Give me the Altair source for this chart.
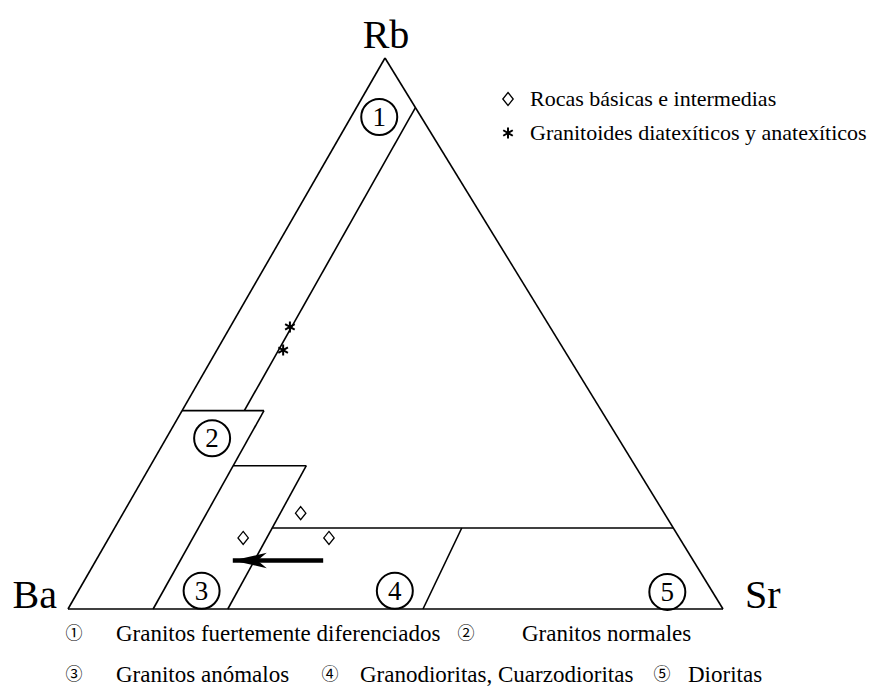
import altair as alt
import pandas as pd

# ---------------- data (ternary fractions; Ba = 1 - Rb - Sr) ----------------
# field boundary segments: start (Rb, Sr) -> end (Rb, Sr)
seg_rb_from = [0.0, 0.0, 1.0, 0.91, 0.36, 0.36, 0.26, 0.26, 0.147, 0.147]
seg_sr_from = [0.0, 1.0, 0.0, 0.09, 0.0, 0.125, 0.1264, 0.238, 0.2406, 0.53]
seg_rb_to = [0.0, 1.0, 0.0, 0.36, 0.36, 0.0, 0.26, 0.0, 0.147, 0.0]
seg_sr_to = [1.0, 0.0, 0.0, 0.095, 0.125, 0.13, 0.238, 0.244, 0.853, 0.542]

# Rocas básicas e intermedias (diamonds)
basic_rb = [0.174, 0.129, 0.129]
basic_sr = [0.271, 0.205, 0.336]
# Granitoides diatexíticos y anatexíticos (stars)
granit_rb = [0.512, 0.470]
granit_sr = [0.091, 0.101]

# field numbers
field_num = ["1", "2", "3", "4", "5"]
field_rb = [0.893, 0.310, 0.033, 0.033, 0.031]
field_sr = [0.043, 0.070, 0.188, 0.483, 0.900]

# arrow: tail, tip
arrow_rb = [0.088, 0.088]
arrow_sr = [0.347, 0.209]

vertex_name = ["Ba", "Sr", "Rb"]
vertex_rb = [0.0, 0.0, 1.0]
vertex_sr = [0.0, 1.0, 0.0]

legend_top = ["Rocas básicas e intermedias", "Granitoides diatexíticos y anatexíticos"]
field_mark = ["①", "②", "③", "④", "⑤"]
field_name = ["Granitos fuertemente diferenciados", "Granitos normales",
              "Granitos anómalos", "Granodioritas, Cuarzodioritas", "Dioritas"]

# ---------------- frame / layout ----------------
SKEW = 317 / 655
PXX, PXY = 655, 551
W, H = 868, 679
X0 = -60 / PXX
Y1 = 601 / PXY


def tern(rb, sr):
    return sr + SKEW * rb, rb


def page(px, py):
    return (px - 68) / PXX, (609 - py) / PXY


xs = alt.Scale(domain=[X0, X0 + W / PXX], nice=False, zero=False)
ys = alt.Scale(domain=[Y1 - H / PXY, Y1], nice=False, zero=False)


def ex(f):
    return alt.X(f, type="quantitative", scale=xs, axis=None)


def ey(f):
    return alt.Y(f, type="quantitative", scale=ys, axis=None)


SERIF = "Liberation Serif"

# segments
rows = []
for a, b, c, d in zip(seg_rb_from, seg_sr_from, seg_rb_to, seg_sr_to):
    x1, y1 = tern(a, b)
    x2, y2 = tern(c, d)
    rows.append({"x": x1, "y": y1, "x2": x2, "y2": y2})
seg_df = pd.DataFrame(rows)

segs = alt.Chart(seg_df).mark_rule(color="black", strokeWidth=1.6).encode(
    x=ex("x"), y=ey("y"), x2="x2:Q", y2="y2:Q")


def pts(rbs, srs, **extra):
    out = []
    for i, (r, s) in enumerate(zip(rbs, srs)):
        x, y = tern(r, s)
        d = {"x": x, "y": y}
        for k, v in extra.items():
            d[k] = v[i]
        out.append(d)
    return pd.DataFrame(out)


# arrow
ax0, ay0 = tern(arrow_rb[0], arrow_sr[0])
ax1, ay1 = tern(arrow_rb[1], arrow_sr[1])
arrow_df = pd.DataFrame([{"x": ax0, "y": ay0, "x2": ax1, "y2": ay1}])
shaft = alt.Chart(arrow_df).mark_rule(color="black", strokeWidth=4.5).encode(
    x=ex("x"), y=ey("y"), x2="x2:Q", y2="y2:Q")
head = alt.Chart(pts(arrow_rb[1:], arrow_sr[1:])).mark_point(
    shape="M0,0L2,-0.45L1.45,0L2,0.45Z", filled=True, size=1156,
    color="black", opacity=1).encode(x=ex("x"), y=ey("y"))

DIAMOND = "M0,-1L0.8,0L0,1L-0.8,0Z"
STAR = "M0,-1L0,1M-0.87,-0.5L0.87,0.5M-0.87,0.5L0.87,-0.5"

diam = alt.Chart(pts(basic_rb, basic_sr)).mark_point(
    shape=DIAMOND, filled=False, size=169, color="black", strokeWidth=1.3,
    opacity=1).encode(x=ex("x"), y=ey("y"))
stars = alt.Chart(pts(granit_rb, granit_sr)).mark_point(
    shape=STAR, filled=False, size=121, color="black", strokeWidth=2,
    opacity=1).encode(x=ex("x"), y=ey("y"))

fdf = pts(field_rb, field_sr, t=field_num)
fcirc = alt.Chart(fdf).mark_point(
    shape="circle", filled=False, size=1296, color="black", strokeWidth=2,
    opacity=1).encode(x=ex("x"), y=ey("y"))
fnum = alt.Chart(fdf).mark_text(
    font=SERIF, fontSize=27, baseline="middle", align="center", dy=1,
    color="black").encode(x=ex("x"), y=ey("y"), text="t:N")

vdf = pts(vertex_rb, vertex_sr, t=vertex_name)
vlab_ba = alt.Chart(vdf.iloc[[0]]).mark_text(
    font=SERIF, fontSize=40, align="right", baseline="alphabetic", dx=-11,
    dy=-1, color="black").encode(x=ex("x"), y=ey("y"), text="t:N")
vlab_sr = alt.Chart(vdf.iloc[[1]]).mark_text(
    font=SERIF, fontSize=40, align="left", baseline="alphabetic", dx=22,
    dy=-1, color="black").encode(x=ex("x"), y=ey("y"), text="t:N")
vlab_rb = alt.Chart(vdf.iloc[[2]]).mark_text(
    font=SERIF, fontSize=40, align="center", baseline="alphabetic", dx=1,
    dy=-10, color="black").encode(x=ex("x"), y=ey("y"), text="t:N")

# top-right legend (page pixel layout)
top_y = [99, 133]
top_mark_x = 508
top_text_x = 530
tl = []
for t, py in zip(legend_top, top_y):
    mx, my = page(top_mark_x, py)
    tx, _ = page(top_text_x, py)
    tl.append({"mx": mx, "x": tx, "y": my, "t": t})
tl_df = pd.DataFrame(tl)
tl_text = alt.Chart(tl_df).mark_text(
    font=SERIF, fontSize=22, align="left", baseline="middle",
    color="black").encode(x=ex("x"), y=ey("y"), text="t:N")
tl_d = alt.Chart(tl_df.iloc[[0]]).mark_point(
    shape=DIAMOND, filled=False, size=169, color="black", strokeWidth=1.3,
    opacity=1).encode(x=ex("mx"), y=ey("y"))
tl_s = alt.Chart(tl_df.iloc[[1]]).mark_point(
    shape=STAR, filled=False, size=121, color="black", strokeWidth=2,
    opacity=1).encode(x=ex("mx"), y=ey("y"))

# bottom legend (page pixel layout)
bl_mark_x = [74, 466, 74, 330, 662]
bl_text_x = [116, 522, 116, 360, 688]
bl_y = [634, 634, 675, 675, 675]
bm, bt = [], []
for m, n, mxp, txp, pyp in zip(field_mark, field_name, bl_mark_x, bl_text_x, bl_y):
    mx, my = page(mxp, pyp)
    tx, _ = page(txp, pyp)
    bm.append({"x": mx, "y": my, "t": m})
    bt.append({"x": tx, "y": my, "t": n})
bl_marks = alt.Chart(pd.DataFrame(bm)).mark_text(
    font="Noto Sans CJK JP", fontSize=17, align="center", baseline="middle",
    color="black").encode(x=ex("x"), y=ey("y"), text="t:N")
bl_texts = alt.Chart(pd.DataFrame(bt)).mark_text(
    font=SERIF, fontSize=23, align="left", baseline="middle",
    color="black").encode(x=ex("x"), y=ey("y"), text="t:N")

chart = alt.layer(
    segs, shaft, head, diam, stars, fcirc, fnum,
    vlab_ba, vlab_sr, vlab_rb, tl_text, tl_d, tl_s, bl_marks, bl_texts
).properties(
    width=W, height=H, padding=0,
    autosize=alt.AutoSizeParams(type="none"),
    background="white",
).configure_view(stroke=None)

chart.save("out.html", embed_options={"renderer": "svg", "actions": False})
